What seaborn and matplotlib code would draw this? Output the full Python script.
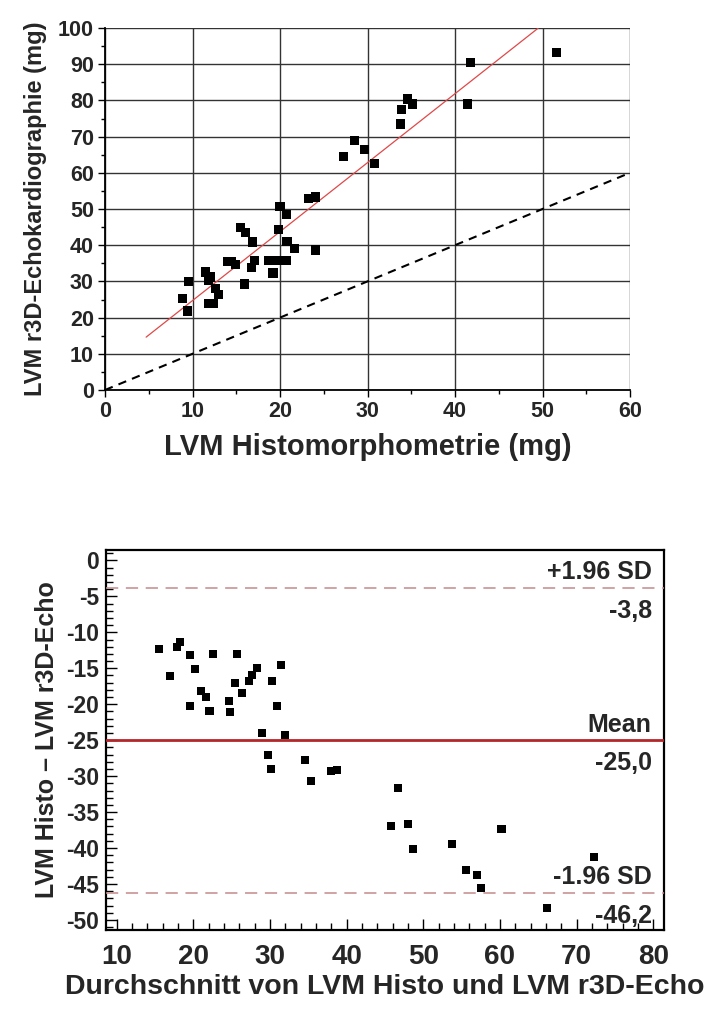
import numpy as np
import pandas as pd
import matplotlib
matplotlib.use("Agg")
import matplotlib.pyplot as plt
from matplotlib.ticker import MultipleLocator
import seaborn as sns

# ---------------- data ----------------
histo = [23.3, 24.1, 20.0, 20.7, 15.5, 16.1, 19.8, 16.9, 20.8, 21.7, 24.1, 14.0, 14.4, 14.9,
         17.1, 16.7, 18.7, 19.3, 19.8, 20.7, 19.2, 11.5, 12.1, 11.8, 9.5, 12.6, 13.0, 15.9,
         11.8, 12.4, 8.9, 9.4, 51.6, 41.8, 41.4, 34.6, 35.1, 33.9, 33.8, 29.7, 30.8, 28.5, 27.3]
echo = [52.9, 53.3, 50.7, 48.5, 44.8, 43.4, 44.3, 40.9, 41.0, 39.0, 38.7, 35.5, 35.4, 34.6,
        35.7, 33.9, 35.7, 35.7, 35.7, 35.7, 32.3, 32.6, 31.2, 30.3, 29.9, 28.0, 26.4, 29.3,
        24.0, 24.0, 25.2, 21.8, 93.2, 90.4, 79.0, 80.4, 79.0, 77.4, 73.5, 66.5, 62.6, 68.9, 64.4]

reg_slope = 1.905
reg_intercept = 5.65
reg_x = [4.7, 49.5]
identity_x = [0, 60]

ba_mean = [15.5, 17.9, 18.3, 19.6, 22.6, 25.7, 17.0, 20.2, 28.3, 27.7, 27.3, 25.4, 30.3, 31.4,
           21.0, 21.7, 26.4, 24.7, 19.6, 22.1, 24.8, 30.9, 28.9, 32.0, 29.7, 30.1, 34.6, 35.4,
           38.0, 38.7, 46.7, 45.8, 48.0, 48.7, 53.7, 60.2, 55.6, 57.0, 57.5, 66.1, 72.3]
ba_diff = [-12.3, -12.0, -11.4, -13.2, -13.0, -13.0, -16.1, -15.1, -14.9, -15.9, -16.8, -17.0,
           -16.8, -14.5, -18.2, -19.0, -18.4, -19.5, -20.2, -21.0, -21.1, -20.2, -24.0, -24.3,
           -27.1, -29.0, -27.7, -30.7, -29.3, -29.1, -31.7, -36.9, -36.6, -40.1, -39.5, -37.4,
           -43.1, -43.7, -45.6, -48.3, -41.2]

limit_names = ["+1.96 SD", "Mean", "-1.96 SD"]
limit_values = [-3.8, -25.0, -46.2]

top_xlabel = "LVM Histomorphometrie (mg)"
top_ylabel = "LVM r3D-Echokardiographie (mg)"
bot_xlabel = "Durchschnitt von LVM Histo und LVM r3D-Echo"
bot_ylabel = "LVM Histo \u2013 LVM r3D-Echo"

# ---------------- style ----------------
sns.set_theme(style="white")
plt.rcParams["font.family"] = ["Liberation Sans", "DejaVu Sans"]
plt.rcParams["axes.unicode_minus"] = False
plt.rcParams["font.weight"] = "bold"

W, H = 714, 1016
fig = plt.figure(figsize=(W / 100, H / 100), dpi=100)

# ---------------- top: correlation ----------------
ax1 = fig.add_axes([105 / W, 1 - 390 / H, (630 - 105) / W, (390 - 28) / H])
df1 = pd.DataFrame({"histo": histo, "echo": echo})
sns.scatterplot(data=df1, x="histo", y="echo", ax=ax1, marker="s", s=44,
                color="black", edgecolor="none", zorder=4)
rx = np.array(reg_x)
df_reg = pd.DataFrame({"x": rx, "y": reg_intercept + reg_slope * rx})
sns.lineplot(data=df_reg, x="x", y="y", ax=ax1, color="#e04848", lw=0.9, zorder=3)
ix = np.array(identity_x)
ax1.plot(ix, ix, color="black", lw=1.5, ls=(0, (4, 3)), zorder=3)

ax1.set_xlim(0, 60)
ax1.set_ylim(0, 100)
ax1.xaxis.set_major_locator(MultipleLocator(10))
ax1.xaxis.set_minor_locator(MultipleLocator(5))
ax1.yaxis.set_major_locator(MultipleLocator(10))
ax1.yaxis.set_minor_locator(MultipleLocator(5))
ax1.grid(True, which="major", color="#333333", lw=1.0)
xg = ax1.get_xgridlines()
xg[0].set_visible(False); xg[-1].set_visible(False)
yg = ax1.get_ygridlines()
yg[0].set_visible(False); yg[-1].set_visible(False)
ax1.set_axisbelow(True)
for s in ["top", "right"]:
    ax1.spines[s].set_visible(False)
for s in ["left", "bottom"]:
    ax1.spines[s].set_color("black")
    ax1.spines[s].set_linewidth(1.3)
ax1.tick_params(which="major", direction="out", length=5, width=1, color="black",
                labelsize=15.5, pad=3, left=True, bottom=True)
ax1.tick_params(which="minor", direction="out", length=3, width=1, color="black",
                left=True, bottom=True)
for lab in ax1.get_xticklabels() + ax1.get_yticklabels():
    lab.set_fontweight("bold")
ax1.set_xlabel(top_xlabel, fontsize=21, fontweight="bold", labelpad=8)
ax1.set_ylabel(top_ylabel, fontsize=17, fontweight="bold", labelpad=8)

# ---------------- bottom: Bland-Altman ----------------
ax2 = fig.add_axes([106 / W, 1 - 930 / H, (664 - 106) / W, (930 - 550) / H])
df2 = pd.DataFrame({"m": ba_mean, "d": ba_diff})
sns.scatterplot(data=df2, x="m", y="d", ax=ax2, marker="s", s=34,
                color="black", edgecolor="none", zorder=4)
ax2.set_xlim(8.6, 81.4)
ax2.set_ylim(-51.4, 1.45)

for name, val in zip(limit_names, limit_values):
    if name == "Mean":
        ax2.axhline(val, color="#b3262a", lw=2.0, zorder=3)
    else:
        ax2.axhline(val, color="#c48a8a", lw=1.1, ls=(0, (8, 5)), zorder=3)
    ax2.annotate(name, xy=(79.8, val), xytext=(0, 6), textcoords="offset points",
                 ha="right", va="baseline", fontsize=18, fontweight="bold")
    ax2.annotate(f"{val:.1f}".replace(".", ","), xy=(79.8, val), xytext=(0, -8),
                 textcoords="offset points", ha="right", va="top", fontsize=18,
                 fontweight="bold")

ax2.xaxis.set_major_locator(MultipleLocator(10))
ax2.xaxis.set_minor_locator(MultipleLocator(2))
ax2.yaxis.set_major_locator(MultipleLocator(5))
ax2.yaxis.set_minor_locator(MultipleLocator(1))
ax2.set_xticks(np.arange(10, 81, 10))
ax2.set_yticks(np.arange(-50, 1, 5))
for s in ax2.spines.values():
    s.set_color("black")
    s.set_linewidth(1.6)
ax2.tick_params(which="major", direction="in", length=8, width=1, color="black",
                left=True, bottom=True, pad=6)
ax2.tick_params(which="minor", direction="in", length=5, width=1, color="black",
                left=True, bottom=True)
ax2.tick_params(axis="x", which="major", labelsize=20, pad=10)
ax2.tick_params(axis="y", which="major", labelsize=16.5, pad=5)
for lab in ax2.get_xticklabels() + ax2.get_yticklabels():
    lab.set_fontweight("bold")
ax2.set_xlabel(bot_xlabel, fontsize=20.5, fontweight="bold", labelpad=3)
ax2.set_ylabel(bot_ylabel, fontsize=18, fontweight="bold", labelpad=5)

fig.savefig("out.png", dpi=100, facecolor="white")
